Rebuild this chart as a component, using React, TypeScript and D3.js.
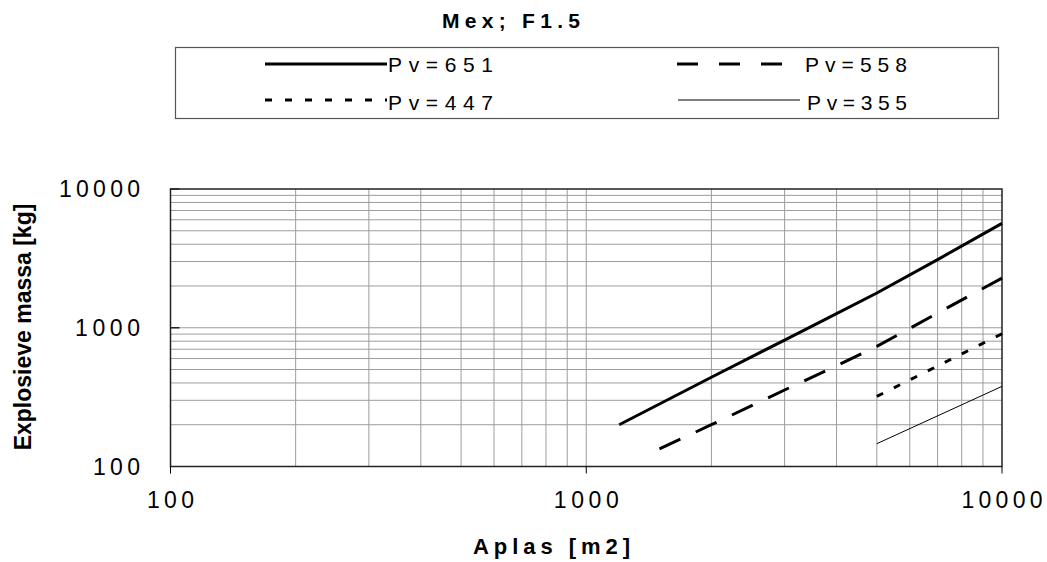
import React from "react";
import * as d3 from "d3";

const chartTitle = "Mex; F1.5";
const xTitle = "Aplas [m2]";
const yTitle = "Explosieve massa [kg]";
const majorTicks = [100, 1000, 10000];
const majorTickLabels = ["100", "1000", "10000"];

const pv651X = [1200, 2000, 3000, 4000, 5000, 7000, 10000];
const pv651Y = [200, 440, 815, 1265, 1780, 3100, 5650];
const pv558X = [1500, 2000, 3000, 4000, 5000, 7000, 10000];
const pv558Y = [134, 200, 356, 532, 734, 1275, 2280];
const pv447X = [5000, 10000];
const pv447Y = [320, 905];
const pv355X = [5000, 10000];
const pv355Y = [146, 378];

const seriesNames = ["Pv=651", "Pv=558", "Pv=447", "Pv=355"];

const FONT = "'Liberation Sans', Arial, sans-serif";

export default function App() {
  const W = 1047, H = 562;
  const left = 170.5, right = 1002, top = 189, bottom = 466.5;
  const x = d3.scaleLog().domain([100, 10000]).range([left, right]);
  const y = d3.scaleLog().domain([100, 10000]).range([bottom, top]);

  const series = [
    { name: seriesNames[0], xs: pv651X, ys: pv651Y, w: 3, dash: "none", legendDash: "none" },
    { name: seriesNames[1], xs: pv558X, ys: pv558Y, w: 3, dash: "23 17", legendDash: "21 21" },
    { name: seriesNames[2], xs: pv447X, ys: pv447Y, w: 3, dash: "7 12", legendDash: "7 13" },
    { name: seriesNames[3], xs: pv355X, ys: pv355Y, w: 1, dash: "none", legendDash: "none" },
  ];

  const line = d3
    .line<[number, number]>()
    .x((d) => x(d[0]))
    .y((d) => y(d[1]));

  const gridVals = x.ticks().filter((v) => v > 100 && v < 10000);
  const gridValsY = y.ticks().filter((v) => v > 100 && v < 10000);

  const legendItems = [
    { s: series[0], x1: 265, x2: 387, ly: 64, tx: 388, ty: 72, tl: 105 },
    { s: series[1], x1: 677, x2: 782, ly: 64, tx: 805, ty: 72, tl: 102 },
    { s: series[2], x1: 265, x2: 387, ly: 100, tx: 388, ty: 110, tl: 105 },
    { s: series[3], x1: 678, x2: 800, ly: 100, tx: 807, ty: 110, tl: 100 },
  ];

  const tickLens = [47, 65, 81];

  return (
    <svg
      width={W}
      height={H}
      style={{ position: "absolute", left: 0, top: 0, background: "#fff" }}
      fontFamily={FONT}
    >
      <rect x={0} y={0} width={W} height={H} fill="#fff" />
      <text x={442} y={28} fontSize={21} fontWeight="bold" textLength={138} lengthAdjust="spacing" fill="#000">
        {chartTitle}
      </text>

      <rect x={175.5} y={47.5} width={823} height={71} fill="#fff" stroke="#555" strokeWidth={1.2} />
      {legendItems.map((it, i) => (
        <g key={i}>
          <line
            x1={it.x1}
            x2={it.x2}
            y1={it.ly}
            y2={it.ly}
            stroke="#000"
            strokeWidth={it.s.w}
            strokeDasharray={it.s.legendDash}
          />
          <text x={it.tx} y={it.ty} fontSize={21} textLength={it.tl} lengthAdjust="spacing" fill="#000">
            {it.s.name}
          </text>
        </g>
      ))}

      {gridVals.map((v) => (
        <line key={"gx" + v} x1={x(v)} x2={x(v)} y1={top} y2={bottom} stroke="#9c9c9c" strokeWidth={1} />
      ))}
      {gridValsY.map((v) => (
        <line key={"gy" + v} x1={left} x2={right} y1={y(v)} y2={y(v)} stroke="#9c9c9c" strokeWidth={1} />
      ))}

      <rect x={left} y={top} width={right - left} height={bottom - top} fill="none" stroke="#222" strokeWidth={1.5} />

      {majorTicks.map((v) => (
        <line key={"tx" + v} x1={x(v)} x2={x(v)} y1={bottom} y2={bottom + 7} stroke="#000" strokeWidth={1} />
      ))}
      {majorTicks.slice(1).map((v) => (
        <line key={"ty" + v} x1={left} x2={left + 9} y1={y(v)} y2={y(v)} stroke="#222" strokeWidth={1.5} />
      ))}

      {majorTicks.map((v, i) => (
        <text
          key={"lx" + v}
          x={x(v)}
          y={508}
          fontSize={23}
          textAnchor="middle"
          textLength={tickLens[i]}
          lengthAdjust="spacing"
          fill="#000"
        >
          {majorTickLabels[i]}
        </text>
      ))}
      {majorTicks.map((v, i) => (
        <text
          key={"ly" + v}
          x={140 - tickLens[i]}
          y={y(v) + 8}
          fontSize={23}
          textLength={tickLens[i]}
          lengthAdjust="spacing"
          fill="#000"
        >
          {majorTickLabels[i]}
        </text>
      ))}

      <text x={473} y={554} fontSize={22} fontWeight="bold" textLength={157} lengthAdjust="spacing" fill="#000">
        {xTitle}
      </text>
      <text
        transform="translate(31,327) rotate(-90)"
        fontSize={23}
        fontWeight="bold"
        textAnchor="middle"
        fill="#000"
      >
        {yTitle}
      </text>

      {series.map((s, i) => (
        <path
          key={"s" + i}
          d={line(s.xs.map((v, j) => [v, s.ys[j]] as [number, number])) || ""}
          fill="none"
          stroke="#000"
          strokeWidth={s.w}
          strokeDasharray={s.dash}
        />
      ))}
    </svg>
  );
}
